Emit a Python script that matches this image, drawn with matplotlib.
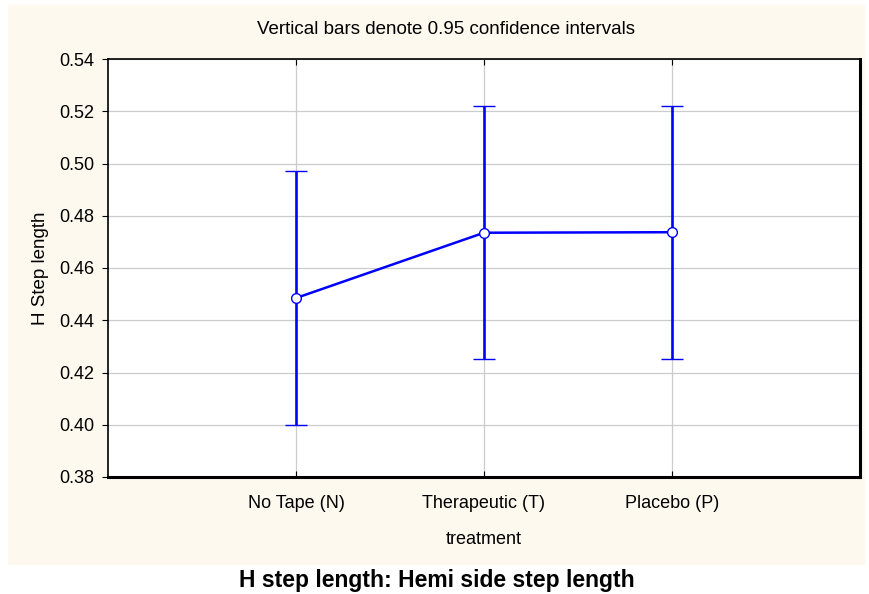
import matplotlib.pyplot as plt
from matplotlib.patches import Rectangle

plt.rcParams['font.family'] = ['Liberation Sans', 'DejaVu Sans']

# data
categories = ["No Tape (N)", "Therapeutic (T)", "Placebo (P)"]
means = [0.4485, 0.4735, 0.4737]
upper = [0.4970, 0.5220, 0.5222]
lower = [0.4000, 0.4250, 0.4252]
yticks = [0.38, 0.40, 0.42, 0.44, 0.46, 0.48, 0.50, 0.52, 0.54]

W, H = 870, 594
fig = plt.figure(figsize=(W / 100, H / 100), dpi=100)
fig.patch.set_facecolor("white")

# cream panel behind the plot
panel = Rectangle((8 / W, 1 - 565 / H), (865 - 8) / W, (565 - 5) / H,
                  transform=fig.transFigure, facecolor="#fdf9ef",
                  edgecolor="none", zorder=-5)
fig.add_artist(panel)

ax = fig.add_axes([108 / W, 1 - 477 / H, (860 - 108) / W, (477 - 59) / H])
ax.set_zorder(2)
ax.set_facecolor("white")

x = list(range(1, len(categories) + 1))
yerr_lo = [m - l for m, l in zip(means, lower)]
yerr_hi = [u - m for m, u in zip(means, upper)]
ax.errorbar(x, means, yerr=[yerr_lo, yerr_hi], color="#0000ff", lw=1.8,
            elinewidth=1.9, capsize=8, capthick=1.9, marker="o", ms=7,
            mfc="white", mec="#0000ff", mew=1.0, zorder=3)

ax.set_xlim(0, 4)
ax.set_ylim(0.38, 0.54)
ax.set_xticks(x)
ax.set_xticklabels(categories, fontsize=13)
ax.set_yticks(yticks)
ax.set_yticklabels([f"{v:.2f}" for v in yticks], fontsize=13)
ax.grid(True, color="#cccccc", lw=0.9)
ax.set_axisbelow(True)

ax.tick_params(axis="x", direction="in", length=4, top=True, pad=13, color="black")
ax.tick_params(axis="y", direction="out", length=4, pad=6, color="black")

for side in ["left", "top"]:
    ax.spines[side].set_linewidth(1.2)
for side in ["right", "bottom"]:
    ax.spines[side].set_linewidth(2.2)

ax.set_xlabel("treatment", fontsize=13, labelpad=14)
ax.set_ylabel("H Step length", fontsize=13.5, labelpad=7)

fig.text(446 / W, 1 - 29 / H, "Vertical bars denote 0.95 confidence intervals",
         ha="center", va="center", fontsize=13.5)
fig.text(437 / W, 1 - 580 / H, "H step length: Hemi side step length",
         ha="center", va="center", fontsize=16.5, fontweight="bold")

fig.savefig("out.png", dpi=100)
